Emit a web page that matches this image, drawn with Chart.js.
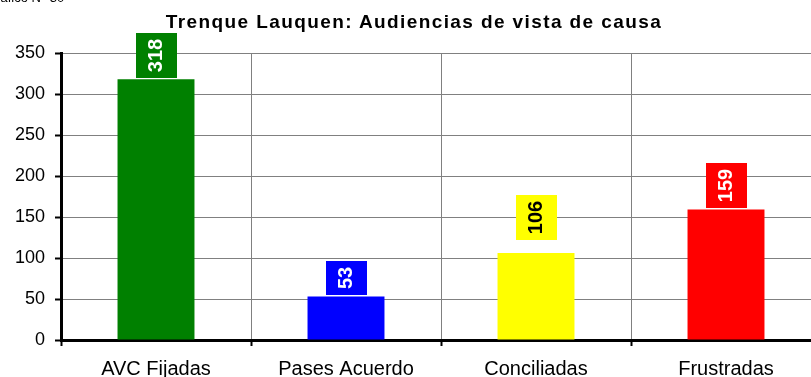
<!DOCTYPE html>
<html lang="es">
<head>
  <meta charset="UTF-8">
  <title>Trenque Lauquen: Audiencias de vista de causa</title>
  <style>
    html, body {
      margin: 0;
      padding: 0;
      background: #ffffff;
      overflow: hidden;
      font-family: "Liberation Sans", Arial, sans-serif;
    }

    .wrap {
      position: relative;
      width: 821px;
      height: 377px;
    }

    .nota {
      position: absolute;
      left: -14px;
      top: -10px;
      font-size: 13px;
      color: #000;
      white-space: nowrap;
    }

    .titulo {
      position: absolute;
      left: 0;
      top: 12px;
      width: 828px;
      text-align: center;
      font-size: 19px;
      line-height: 19px;
      font-weight: bold;
      letter-spacing: 1.4px;
      color: #000;
      white-space: nowrap;
    }
  </style>
</head>
<body>
  <div class="wrap">
    <div class="nota">Gráfico N° 30</div>
    <div class="titulo">Trenque Lauquen: Audiencias de vista de causa</div>
    <canvas id="grafico" width="821" height="377"></canvas>
  </div>

  <script src="https://cdn.jsdelivr.net/npm/chart.js"></script>
  <script>
    // Datos del gráfico
    const categorias = ['AVC Fijadas', 'Pases Acuerdo', 'Conciliadas', 'Frustradas'];
    const valores = [318, 53, 106, 159];
    const colores = ['#008000', '#0000ff', '#ffff00', '#ff0000'];
    const coloresTexto = ['#ffffff', '#ffffff', '#000000', '#ffffff'];
    const ticksY = [0, 50, 100, 150, 200, 250, 300, 350];

    const fuente = '"Liberation Sans", Arial, sans-serif';

    // Etiquetas giradas sobre cada barra, en una caja del color de la barra
    const etiquetasGiradas = {
      id: 'etiquetasGiradas',
      afterDatasetsDraw(chart) {
        const ctx = chart.ctx;
        const meta = chart.getDatasetMeta(0);
        const separacion = [1.5, 1.5, 13.5, 1.5];
        ctx.save();
        ctx.font = 'bold 20px ' + fuente;
        meta.data.forEach((barra, i) => {
          const texto = String(valores[i]);
          const ancho = 41;
          const alto = Math.round(ctx.measureText(texto).width + 12);
          const x = barra.x;
          const base = Math.round(barra.y - separacion[i]);
          ctx.fillStyle = colores[i];
          ctx.fillRect(Math.round(x - ancho / 2), base - alto, ancho, alto);
          ctx.translate(x, base - alto / 2);
          ctx.rotate(-Math.PI / 2);
          ctx.fillStyle = coloresTexto[i];
          ctx.textAlign = 'center';
          ctx.textBaseline = 'middle';
          ctx.fillText(texto, 0, 0);
          ctx.setTransform(1, 0, 0, 1, 0, 0);
        });
        ctx.restore();
      }
    };

    const ctx = document.getElementById('grafico').getContext('2d');
    new Chart(ctx, {
      type: 'bar',
      data: {
        labels: categorias,
        datasets: [{
          data: valores,
          backgroundColor: colores,
          borderWidth: 0,
          barPercentage: 0.405,
          categoryPercentage: 1
        }]
      },
      options: {
        responsive: false,
        animation: false,
        devicePixelRatio: 1,
        layout: { padding: { left: 0, right: 0, top: 53, bottom: 0 } },
        plugins: {
          legend: { display: false },
          tooltip: { enabled: false },
          title: { display: false }
        },
        scales: {
          x: {
            offset: true,
            afterFit(axis) {
              axis.height = 37;
            },
            grid: {
              offset: true,
              color: '#808080',
              lineWidth: 1,
              tickColor: '#000',
              tickWidth: 2,
              tickLength: 6
            },
            border: { color: '#000', width: 3 },
            ticks: {
              color: '#000',
              padding: 11,
              font: { family: fuente, size: 20 }
            }
          },
          y: {
            min: 0,
            max: 350,
            afterBuildTicks(axis) {
              axis.ticks = ticksY.map(v => ({ value: v }));
            },
            afterFit(axis) {
              axis.width = 61;
            },
            grid: {
              color: '#808080',
              lineWidth: 1,
              tickColor: '#000',
              tickWidth: 2,
              tickLength: 6
            },
            border: { color: '#000', width: 3 },
            ticks: {
              color: '#000',
              padding: 10,
              font: { family: fuente, size: 18 }
            }
          }
        }
      },
      plugins: [etiquetasGiradas]
    });
  </script>
</body>
</html>
